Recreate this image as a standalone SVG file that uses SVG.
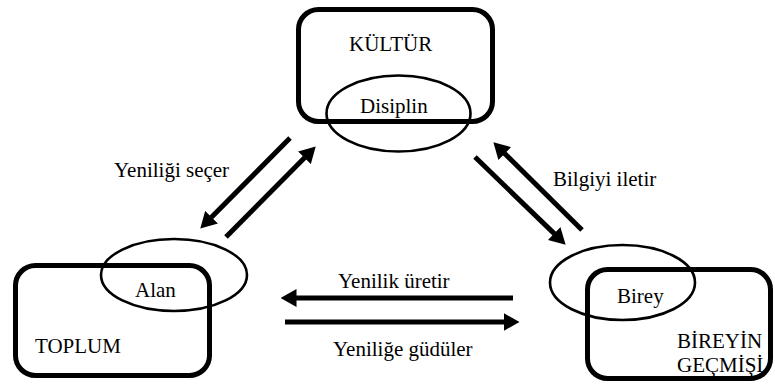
<svg xmlns="http://www.w3.org/2000/svg" width="775" height="388" viewBox="0 0 775 388">
<style>
.box{fill:none;stroke:#000;stroke-width:5}
.ell{fill:none;stroke:#000;stroke-width:2.6}
.t{font-size:21px;fill:#000}
.arr{stroke:#000;stroke-width:5;fill:none;marker-end:url(#ah)}
</style>
<defs>
<marker id="ah" markerUnits="userSpaceOnUse" viewBox="0 0 16 18" markerWidth="16" markerHeight="18" refX="0.5" refY="9" orient="auto">
<path d="M0,0 L16,9 L0,18 z" fill="#000"/>
</marker>
</defs>
<g font-family="Liberation Serif, Times New Roman, Times, Tinos, DejaVu Serif, Noto Serif, FreeSerif, serif">
<g id="kultur">
<rect class="box" x="298.5" y="9.5" width="194" height="112" rx="20"/>
<text class="t" x="349" y="51">KÜLTÜR</text>
</g>
<g id="disiplin">
<ellipse class="ell" cx="398.5" cy="113.5" rx="72" ry="38"/>
<text class="t" x="360" y="113">Disiplin</text>
</g>
<g id="toplum">
<rect class="box" x="15.5" y="265.5" width="194" height="110" rx="20"/>
<text class="t" x="35" y="353">TOPLUM</text>
</g>
<g id="alan">
<ellipse class="ell" cx="174" cy="275" rx="73" ry="36"/>
<text class="t" x="135" y="297">Alan</text>
</g>
<g id="bireyin-gecmisi">
<rect class="box" x="587.5" y="269.5" width="183" height="109" rx="20"/>
<text class="t" x="677" y="348">BİREYİN</text>
<text class="t" x="677" y="372">GEÇMİŞİ</text>
</g>
<g id="birey">
<ellipse class="ell" cx="622.5" cy="282.5" rx="72.5" ry="37.5"/>
<text class="t" x="617" y="303">Birey</text>
</g>
<g id="connectors">
<line class="arr" x1="290" y1="138" x2="211.2" y2="217.6"/>
<line class="arr" x1="226" y1="237" x2="304.8" y2="157.4"/>
<line class="arr" x1="475" y1="157" x2="554.5" y2="233.9"/>
<line class="arr" x1="582" y1="230" x2="504.4" y2="153.2"/>
<line class="arr" x1="513" y1="298" x2="296" y2="298"/>
<line class="arr" x1="285" y1="322" x2="504" y2="322"/>
<text class="t" x="114" y="177">Yeniliği seçer</text>
<text class="t" x="553" y="186">Bilgiyi iletir</text>
<text class="t" x="338" y="288">Yenilik üretir</text>
<text class="t" x="333" y="356">Yeniliğe güdüler</text>
</g>
</g>
</svg>
